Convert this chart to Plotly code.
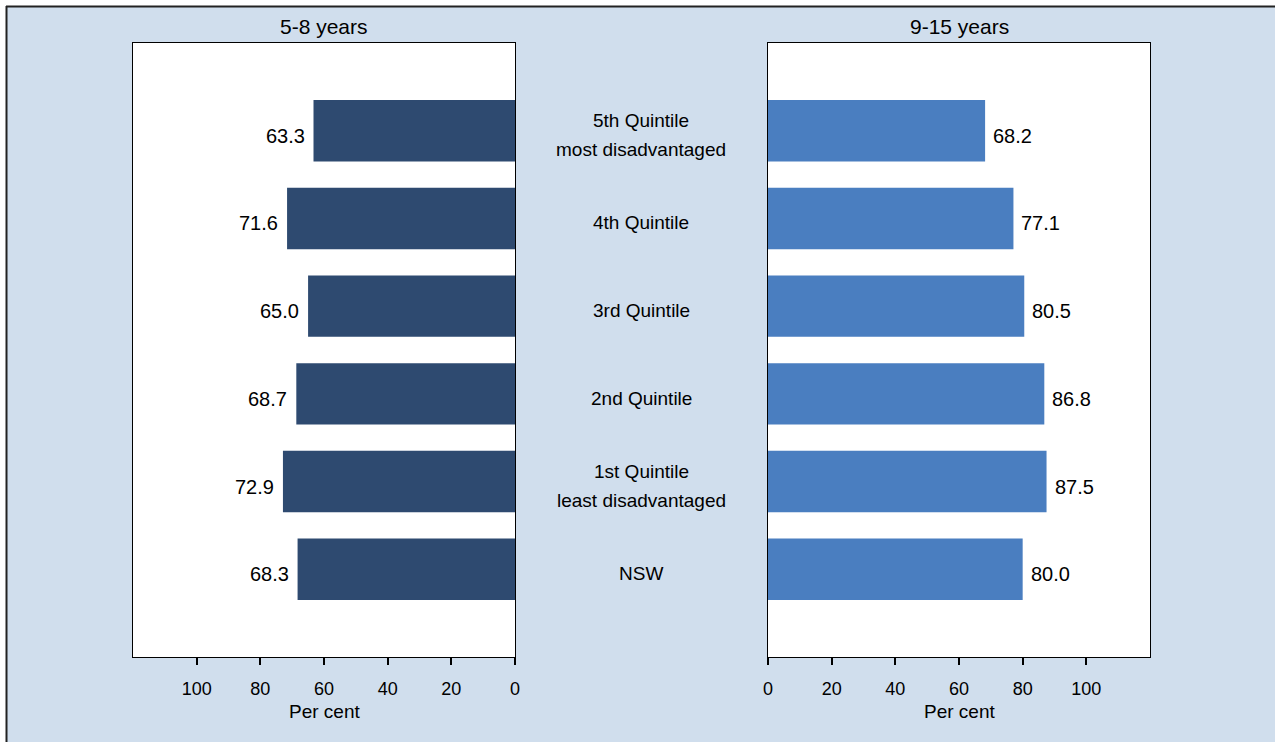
import plotly.graph_objects as go

categories = ["5th Quintile<br>most disadvantaged", "4th Quintile", "3rd Quintile",
              "2nd Quintile", "1st Quintile<br>least disadvantaged", "NSW"]
values_5_8 = [63.3, 71.6, 65.0, 68.7, 72.9, 68.3]
values_9_15 = [68.2, 77.1, 80.5, 86.8, 87.5, 80.0]
panel_titles = ["5-8 years", "9-15 years"]
tick_vals = [0, 20, 40, 60, 80, 100]
axis_title = "Per cent"

BG = "#D0DEED"
DARK = "#2E4A70"
LIGHT = "#4A7EC0"
FONT = "Liberation Sans, Arial, sans-serif"

W, H = 1275, 742
ML, MR, MT, MB = 133, 125, 43, 85
PW, PH = W - ML - MR, H - MT - MB


def px(x):
    return (x - ML) / PW


def py(y):
    return (H - MB - y) / PH


order = categories[::-1]

fig = go.Figure()
fig.add_trace(go.Bar(x=values_5_8, y=categories, orientation="h", marker_color=DARK,
                     marker_line_width=0, width=0.7, xaxis="x", yaxis="y",
                     hoverinfo="x+y"))
fig.add_trace(go.Bar(x=values_9_15, y=categories, orientation="h", marker_color=LIGHT,
                     marker_line_width=0, width=0.7, xaxis="x2", yaxis="y2",
                     hoverinfo="x+y"))

annotations = []
for c, v in zip(categories, values_5_8):
    annotations.append(dict(x=v, y=c, xref="x", yref="y", text=f"{v:.1f}",
                            xanchor="right", yanchor="middle", xshift=-7, yshift=-5,
                            showarrow=False, font=dict(size=20, color="black", family=FONT)))
for c, v in zip(categories, values_9_15):
    annotations.append(dict(x=v, y=c, xref="x2", yref="y2", text=f"{v:.1f}",
                            xanchor="left", yanchor="middle", xshift=6, yshift=-5,
                            showarrow=False, font=dict(size=20, color="black", family=FONT)))
# middle category labels
for c in categories:
    lines = c.split("<br>")
    n = len(lines)
    for i, ln in enumerate(lines):
        shift = -4.5 + ((n - 1) / 2 - i) * 29
        annotations.append(dict(x=px(641), y=c, xref="paper", yref="y", text=ln,
                                xanchor="center", yanchor="middle", yshift=shift,
                                showarrow=False, font=dict(size=19, color="black", family=FONT)))
# panel titles
annotations.append(dict(x=px(324), y=py(27), xref="paper", yref="paper", text=panel_titles[0],
                        showarrow=False, xanchor="center", yanchor="middle",
                        font=dict(size=21, color="black", family=FONT)))
annotations.append(dict(x=px(959), y=py(27), xref="paper", yref="paper", text=panel_titles[1],
                        showarrow=False, xanchor="center", yanchor="middle",
                        font=dict(size=21, color="black", family=FONT)))
annotations.append(dict(x=px(324), y=py(711), xref="paper", yref="paper", text=axis_title,
                        showarrow=False, xanchor="center", yanchor="middle",
                        font=dict(size=19, color="black", family=FONT)))
annotations.append(dict(x=px(959), y=py(711), xref="paper", yref="paper", text=axis_title,
                        showarrow=False, xanchor="center", yanchor="middle",
                        font=dict(size=19, color="black", family=FONT)))

xcommon = dict(tickvals=tick_vals, ticks="outside", ticklen=7, tickwidth=2, tickcolor="black",
               ticklabelstandoff=8,
               showgrid=False, zeroline=False, showline=True, linecolor="black", linewidth=1,
               mirror=True, tickfont=dict(size=18, color="black", family=FONT),
               fixedrange=True)
ycommon = dict(type="category", categoryorder="array", categoryarray=order, range=[-1, 6],
               showticklabels=False, ticks="", showgrid=False, zeroline=False,
               showline=True, linecolor="black", linewidth=1, mirror=True, fixedrange=True)

fig.update_layout(
    width=W, height=H,
    margin=dict(l=ML, r=MR, t=MT, b=MB),
    paper_bgcolor=BG, plot_bgcolor="white",
    showlegend=False,
    xaxis=dict(domain=[0, px(515)], range=[120, 0], anchor="y", **xcommon),
    yaxis=dict(domain=[0, 1], anchor="x", **ycommon),
    xaxis2=dict(domain=[px(768), 1], range=[0, 120], anchor="y2", **xcommon),
    yaxis2=dict(domain=[0, 1], anchor="x2", **ycommon),
    annotations=annotations,
    shapes=[
        dict(type="rect", xref="paper", yref="paper", x0=px(-20), x1=px(1300),
             y0=py(6), y1=py(-20), fillcolor="white", line_width=0, layer="above"),
        dict(type="rect", xref="paper", yref="paper", x0=px(-20), x1=px(6),
             y0=py(760), y1=py(-20), fillcolor="white", line_width=0, layer="above"),
        dict(type="line", xref="paper", yref="paper", x0=px(6), x1=px(1300),
             y0=py(6.5), y1=py(6.5), line=dict(color="#222", width=2), layer="above"),
        dict(type="line", xref="paper", yref="paper", x0=px(6.5), x1=px(6.5),
             y0=py(6), y1=py(760), line=dict(color="#222", width=2), layer="above"),
    ],
    font=dict(family=FONT, color="black"),
)

fig.write_html("out.html", config={"displayModeBar": False},
               post_script="document.body.style.margin='0px';")
